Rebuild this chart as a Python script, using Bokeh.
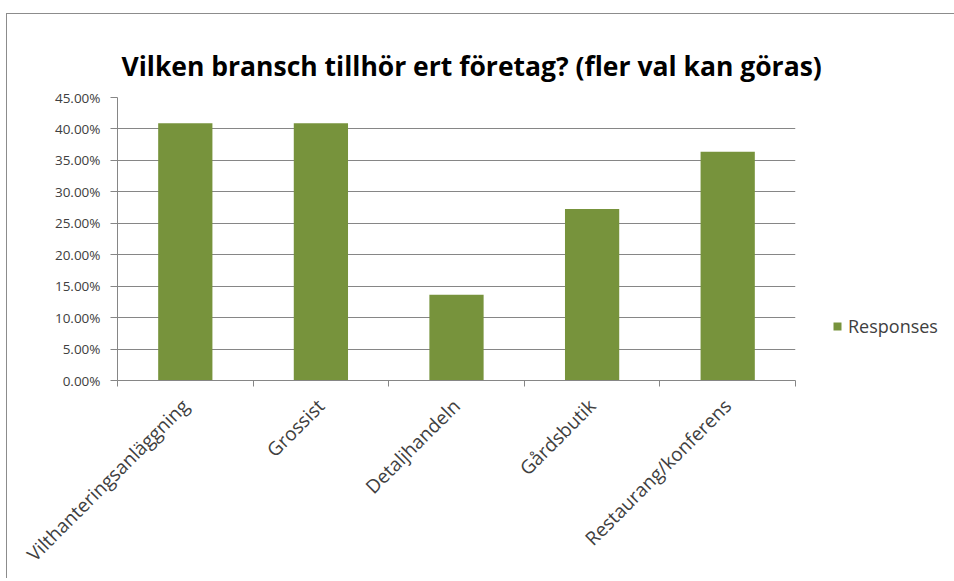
import math
from bokeh.plotting import figure
from bokeh.models import FixedTicker, NumeralTickFormatter, Range1d, Legend, LegendItem, ColumnDataSource
from bokeh.embed import file_html
from bokeh.resources import INLINE

categories = ["Vilthanteringsanläggning", "Grossist", "Detaljhandeln", "Gårdsbutik", "Restaurang/konferens"]
responses = [0.4091, 0.4091, 0.1364, 0.2727, 0.3636]
y_ticks = [0.0, 0.05, 0.10, 0.15, 0.20, 0.25, 0.30, 0.35, 0.40, 0.45]

FONT = "Open Sans"
GRAY = "#868686"
TEXT = "#404040"

xs = [i + 0.5 for i in range(len(categories))]
src = ColumnDataSource(dict(x=xs, top=responses, cat=categories))

p = figure(width=947, height=560, output_backend="svg", toolbar_location=None,
           x_range=Range1d(0, len(categories)), y_range=Range1d(0, 0.45),
           frame_width=678, frame_height=283,
           min_border_left=110, min_border_top=83, min_border_right=159, min_border_bottom=194,
           title="Vilken bransch tillhör ert företag? (fler val kan göras)")
p.styles = {"margin-top": "13px", "margin-left": "6px",
            "border-top": "1px solid #8c8c8c", "border-left": "1px solid #8c8c8c"}

p.title.text_font = FONT
p.title.text_font_size = "26.5px"
p.title.text_font_style = "bold"
p.title.text_color = "#000000"
p.title.align = "left"
p.title.offset = 4
p.title.standoff = 27

p.outline_line_color = None
p.background_fill_color = "white"
p.border_fill_color = "white"

r = p.vbar(x="x", top="top", width=0.4, source=src, fill_color="#77933C", line_color=None)

# y axis
p.yaxis.ticker = FixedTicker(ticks=y_ticks)
p.yaxis.formatter = NumeralTickFormatter(format="0.00%")
p.yaxis.axis_line_color = GRAY
p.yaxis.major_tick_line_color = GRAY
p.yaxis.major_tick_out = 7
p.yaxis.major_tick_in = 0
p.yaxis.minor_tick_line_color = None
p.yaxis.major_label_text_font = FONT
p.yaxis.major_label_text_font_size = "13.5px"
p.yaxis.major_label_text_color = TEXT
p.yaxis.major_label_standoff = 10

p.ygrid.grid_line_color = GRAY
p.ygrid.grid_line_width = 1
p.ygrid.ticker = FixedTicker(ticks=y_ticks)
p.xgrid.grid_line_color = None

# x axis
p.xaxis.ticker = FixedTicker(ticks=xs, minor_ticks=list(range(len(categories) + 1)))
p.xaxis.major_label_overrides = {x: c for x, c in zip(xs, categories)}
p.xaxis.major_label_orientation = math.pi / 4
p.xaxis.axis_line_color = GRAY
p.xaxis.major_tick_line_color = None
p.xaxis.minor_tick_line_color = GRAY
p.xaxis.minor_tick_out = 6
p.xaxis.minor_tick_in = 0
p.xaxis.major_label_text_font = FONT
p.xaxis.major_label_text_font_size = "19px"
p.xaxis.major_label_text_color = TEXT
p.xaxis.major_label_standoff = 16

legend = Legend(items=[LegendItem(label="Responses", renderers=[r])],
                location=(37, 42), padding=0, margin=0, border_line_color=None,
                background_fill_alpha=0, glyph_width=10, glyph_height=10, label_height=20,
                label_standoff=6, label_text_font=FONT, label_text_font_size="18px",
                label_text_color=TEXT)
p.add_layout(legend, "right")

open("out.html", "w").write(file_html(p, INLINE))
